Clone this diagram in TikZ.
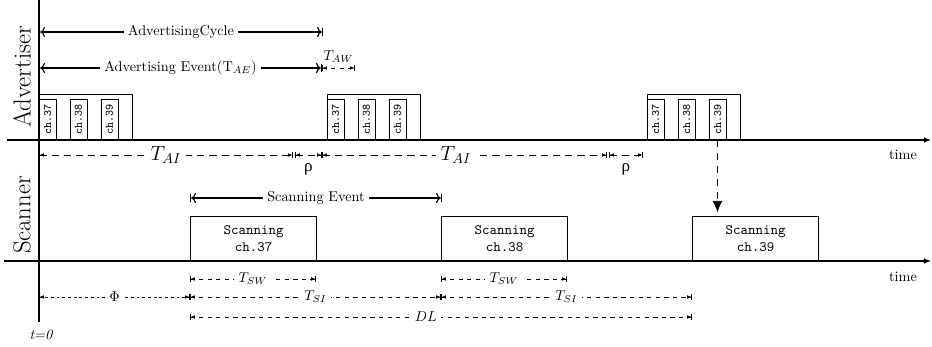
\documentclass[tikz,border=0pt]{standalone}
\usepackage{fontspec}
\usetikzlibrary{arrows.meta,positioning}
\newfontfamily\rhofont{Liberation Serif}

\begin{document}
\begin{tikzpicture}[x=0.7pt,y=-0.7pt,
    timeaxis/.style={thick,-{Latex[length=5pt,width=4pt]}},
    advbox/.style={draw,thick,minimum width=65.1pt,minimum height=31.5pt,inner sep=0pt,anchor=south west},
    chbox/.style={draw,rotate=90,minimum width=28.7pt,minimum height=11.9pt,inner sep=0pt,font=\ttfamily\footnotesize},
    scanbox/.style={draw,thick,minimum width=88.2pt,minimum height=30.8pt,inner sep=0pt,anchor=south west,align=center,font=\ttfamily},
    spanarrow/.style={thick,|<->|},
    dimtip/.style={{Bar[width=4pt] Latex[length=3pt,width=2.5pt]}-{Latex[length=3pt,width=2.5pt] Bar[width=4pt]}},
    longdash/.style={dimtip,dash pattern=on 5pt off 3.5pt},
    dimline/.style={dimtip,dash pattern=on 3pt off 3pt},
    shortdash/.style={dimtip,dash pattern=on 2pt off 2pt},
    lbl/.style={fill=white,inner xsep=3pt,inner ysep=1pt},
    rholbl/.style={below=2.5pt,font=\large\rhofont}]
    \useasboundingbox (0,0) rectangle (932,347);

    \node[rotate=90,font=\LARGE] (advlabel) at (22,77) {Advertiser};
    \node[rotate=90,font=\LARGE] (scanlabel) at (22,215) {Scanner};
    \node (advtime) at (903,155) {time};
    \node (scantime) at (903,277) {time};
    \node[font=\itshape] (tzero) at (41,335) {t=0};

    \foreach \n/\x in {1/39,2/327,3/647}{
        \node[advbox] (adv\n) at (\x,140) {};
        \foreach \c/\dx in {37/8.5,38/39.5,39/70.5}
            \node[chbox] (adv\n c\c) at (\x+\dx,119.5) {ch.\c};
    }

    \node[scanbox] (scan37) at (190,261) {Scanning\\ch.37};
    \node[scanbox] (scan38) at (441,261) {Scanning\\ch.38};
    \node[scanbox] (scan39) at (692,261) {Scanning\\ch.39};

    \coordinate (top) at (39,0);
    \coordinate (bottom) at (39,322);
    \coordinate (advstart) at (7,140);
    \coordinate (advend) at (931,140);
    \coordinate (scanstart) at (4,261);
    \coordinate (scanend) at (931,261);
    \draw[thick] (top) -- (bottom);
    \draw[timeaxis] (advstart) -- (advend);
    \draw[timeaxis] (scanstart) -- (scanend);

    \coordinate (cyc1) at (39,32);
    \coordinate (cyc2) at (323,32);
    \coordinate (ev1) at (39,68);
    \coordinate (ev2) at (322,68);
    \coordinate (aw) at (355,68);
    \draw[spanarrow] (cyc1) -- node[lbl] (cyclabel) {AdvertisingCycle} (cyc2);
    \draw[spanarrow] (ev1) -- node[lbl] (evlabel) {Advertising Event(T$_{AE}$)} (ev2);
    \draw[dimline] (ev2) -- node[above=0pt] (awlabel) {$T_{AW}$} (aw);

    \coordinate (ai0) at (39,155);
    \coordinate (ai1) at (293,155);
    \coordinate (rho1a) at (295,155);
    \coordinate (rho1b) at (322,155);
    \coordinate (ai2) at (607,155);
    \coordinate (rho2a) at (609,155);
    \coordinate (rho2b) at (643,155);
    \draw[longdash] (ai0) -- node[lbl,font=\Large] (ai1label) {$T_{AI}$} (ai1);
    \draw[longdash] (rho1a) -- node[rholbl] (rho1label) {ρ} (rho1b);
    \draw[longdash] (rho1b) -- node[lbl,font=\Large,pos=0.47] (ai2label) {$T_{AI}$} (ai2);
    \draw[longdash] (rho2a) -- node[rholbl] (rho2label) {ρ} (rho2b);

    \draw[semithick,dash pattern=on 5pt off 4pt,-{Latex[length=8pt,width=7pt]},shorten >=2.5pt]
        (adv3c39.west) -- (adv3c39.west |- scan39.north);

    \coordinate (se1) at (190,198);
    \coordinate (se2) at (442,198);
    \draw[spanarrow] (se1) -- node[lbl] (selabel) {Scanning Event} (se2);

    \coordinate (sw1a) at (190,279);
    \coordinate (sw1b) at (316,279);
    \coordinate (sw2a) at (441,279);
    \coordinate (sw2b) at (567,279);
    \draw[dimline] (sw1a) -- node[lbl] (sw1label) {$T_{SW}$} (sw1b);
    \draw[dimline] (sw2a) -- node[lbl] (sw2label) {$T_{SW}$} (sw2b);

    \coordinate (phi0) at (39,297);
    \coordinate (si0) at (190,297);
    \coordinate (si1) at (441,297);
    \coordinate (si2) at (692,297);
    \draw[shortdash] (phi0) -- node[lbl] (philabel) {$\Phi$} (si0);
    \draw[dimline] (si0) -- node[lbl] (si1label) {$T_{SI}$} (si1);
    \draw[dimline] (si1) -- node[lbl] (si2label) {$T_{SI}$} (si2);

    \coordinate (dl0) at (190,317);
    \coordinate (dl1) at (692,317);
    \draw[dimline] (dl0) -- node[lbl,pos=0.47] (dllabel) {$DL$} (dl1);
\end{tikzpicture}
\end{document}
